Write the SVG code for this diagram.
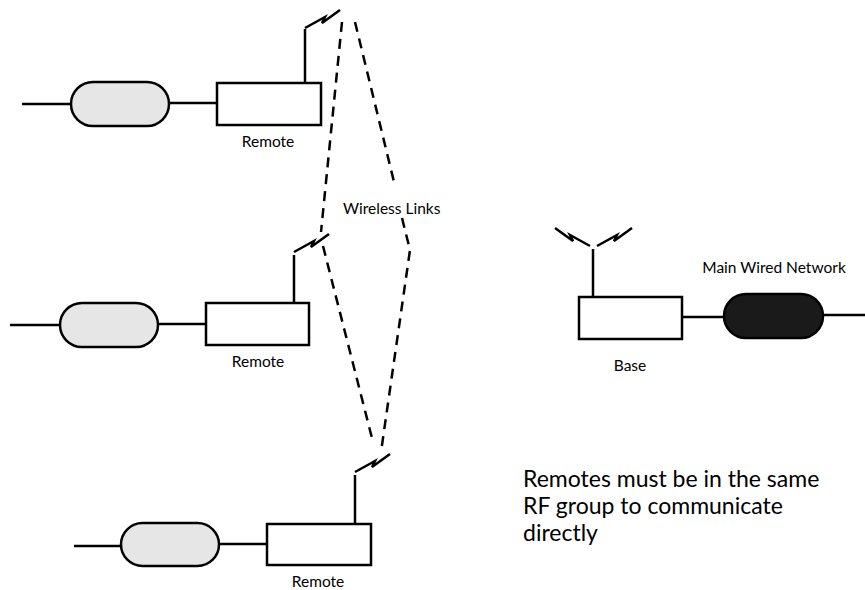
<svg xmlns="http://www.w3.org/2000/svg" width="865" height="590" viewBox="0 0 865 590">
<style>
.ln{stroke:#000;stroke-width:2.5;fill:none}
.box{stroke:#000;stroke-width:2.5;fill:#fff}
.pill{stroke:#000;stroke-width:2.5;fill:#e6e6e6}
.pillb{stroke:#000;stroke-width:2.5;fill:#1a1a1a}
.dash{stroke:#000;stroke-width:2.5;fill:none;stroke-dasharray:10 7}
.lbl{font-family:"Lato","Liberation Sans",sans-serif;font-size:15.5px;fill:#000}
.note{font-family:"Lato","Liberation Sans",sans-serif;font-size:23px;fill:#000}
</style>
<defs>
<path id="bolt" d="M0,0 L20,-11 L17,-5 L35,-18" stroke="#000" stroke-width="2.5" fill="none" stroke-linejoin="miter"/>
</defs>
<g id="connectors">
<polyline class="dash" points="342,22 321,232"/>
<polyline class="dash" points="355,22 395,186"/>
<polyline class="dash" points="402,218 410,250 381,452"/>
<polyline class="dash" points="323,246 373,442"/>
</g>
<g id="remote1">
<line class="ln" x1="22" y1="104" x2="71" y2="104"/>
<rect class="pill" x="71" y="82" width="98" height="44" rx="22"/>
<line class="ln" x1="169" y1="103" x2="217" y2="103"/>
<rect class="box" x="217" y="83" width="104" height="42"/>
<line class="ln" x1="305" y1="83" x2="305" y2="29"/>
<use href="#bolt" transform="translate(305,28)"/>
<text class="lbl" x="268" y="147" text-anchor="middle">Remote</text>
</g>
<g id="remote2">
<line class="ln" x1="10" y1="325" x2="60" y2="325"/>
<rect class="pill" x="60" y="303" width="98" height="44" rx="22"/>
<line class="ln" x1="158" y1="324" x2="206" y2="324"/>
<rect class="box" x="206" y="303" width="103" height="42"/>
<line class="ln" x1="294" y1="303" x2="294" y2="255"/>
<use href="#bolt" transform="translate(294,252)"/>
<text class="lbl" x="258" y="367" text-anchor="middle">Remote</text>
</g>
<g id="remote3">
<line class="ln" x1="74" y1="546" x2="121" y2="546"/>
<rect class="pill" x="121" y="523" width="98" height="43" rx="21.5"/>
<line class="ln" x1="219" y1="544" x2="267" y2="544"/>
<rect class="box" x="267" y="524" width="104" height="41"/>
<line class="ln" x1="355" y1="524" x2="355" y2="475"/>
<use href="#bolt" transform="translate(355,472)"/>
<text class="lbl" x="318" y="587" text-anchor="middle">Remote</text>
</g>
<g id="base">
<rect class="box" x="579" y="297" width="103" height="42"/>
<line class="ln" x1="593" y1="297" x2="593" y2="249"/>
<use href="#bolt" transform="translate(597,246)"/>
<use href="#bolt" transform="translate(590,246) scale(-1,1)"/>
<text class="lbl" x="630" y="371" text-anchor="middle">Base</text>
</g>
<g id="main-wired-network">
<line class="ln" x1="682" y1="317" x2="724" y2="317"/>
<rect class="pillb" x="724" y="294" width="99" height="44" rx="22"/>
<line class="ln" x1="823" y1="315" x2="865" y2="315"/>
<text class="lbl" x="774" y="273" text-anchor="middle">Main Wired Network</text>
</g>
<g id="wireless-links">
<text class="lbl" x="343" y="214">Wireless Links</text>
</g>
<g id="note">
<text class="note" x="523" y="487">Remotes must be in the same</text>
<text class="note" x="523" y="514">RF group to communicate</text>
<text class="note" x="523" y="541">directly</text>
</g>
</svg>
